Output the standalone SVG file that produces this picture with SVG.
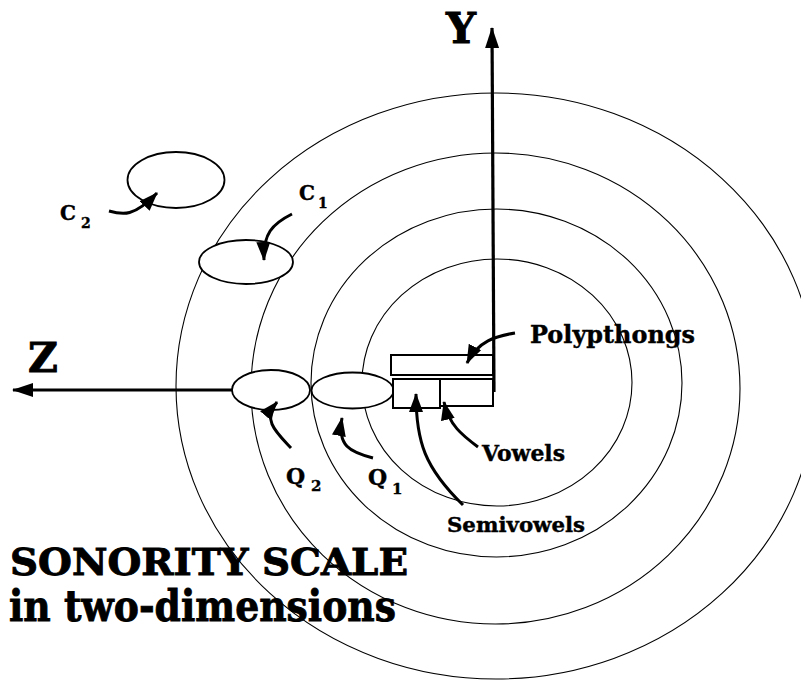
<svg xmlns="http://www.w3.org/2000/svg" width="801" height="681" viewBox="0 0 801 681">
<style>
.ring{fill:none;stroke:#000;stroke-width:1.1}
.node{fill:#fff;stroke:#000;stroke-width:1.8}
.box{fill:#fff;stroke:#000;stroke-width:2}
.arr{fill:none;stroke:#000;stroke-width:3;marker-end:url(#ah)}
.axis{fill:none;stroke:#000;stroke-width:3.2;marker-end:url(#axh)}
text{font-family:"DejaVu Serif","Liberation Serif",serif;font-weight:bold;fill:#000;stroke:#000;stroke-width:0.4}
.big{stroke-width:0.9}
</style>
<defs>
<marker id="ah" markerUnits="userSpaceOnUse" markerWidth="19" markerHeight="14" viewBox="0 0 19 14" refX="18" refY="7" orient="auto"><path d="M0,0 L19,7 L0,14 z" fill="#000"/></marker>
<marker id="axh" markerUnits="userSpaceOnUse" markerWidth="21" markerHeight="14" viewBox="0 0 21 14" refX="20" refY="7" orient="auto"><path d="M0,0 L21,7 L0,14 z" fill="#000"/></marker>
</defs>
<rect width="801" height="681" fill="#fff"/>
<g id="title">
<text class="big" x="10" y="575" font-size="37" textLength="398" lengthAdjust="spacingAndGlyphs">SONORITY SCALE</text>
<text class="big" x="9" y="621" font-size="43" textLength="387" lengthAdjust="spacingAndGlyphs">in two-dimensions</text>
</g>
<g id="rings">
<ellipse id="ring4" class="ring" cx="496" cy="386" rx="320" ry="293"/>
<ellipse id="ring3" class="ring" cx="495.5" cy="388.5" rx="244.5" ry="235.5"/>
<ellipse id="ring2" class="ring" cx="496.5" cy="383" rx="185.5" ry="174"/>
<ellipse id="ring1" class="ring" cx="497" cy="382.5" rx="135" ry="123.5"/>
</g>
<g id="axes">
<path id="z-axis" class="axis" d="M233,390 L13,390"/>
<text class="big" x="28" y="372" font-size="41">Z</text>
<text class="big" x="446" y="43" font-size="42">Y</text>
</g>
<g id="c2"><ellipse class="node" cx="176" cy="180" rx="48.5" ry="28"/>
<text x="60" y="220" font-size="20">C</text><text x="81" y="227.5" font-size="14">2</text></g>
<g id="c1"><ellipse class="node" cx="246" cy="262" rx="47" ry="22"/>
<text x="299" y="200" font-size="20">C</text><text x="318" y="207.5" font-size="14">1</text></g>
<g id="q2"><ellipse class="node" cx="271" cy="390" rx="39" ry="20"/>
<text x="286" y="484" font-size="22">Q</text><text x="311" y="491" font-size="15">2</text></g>
<g id="q1"><ellipse class="node" cx="352.5" cy="390.5" rx="41" ry="18"/>
<text x="368" y="485" font-size="22">Q</text><text x="392" y="494" font-size="15">1</text></g>
<g id="polypthongs"><rect class="box" x="391" y="355" width="102" height="20"/>
<text x="530" y="342.5" font-size="25" textLength="165" lengthAdjust="spacingAndGlyphs">Polypthongs</text></g>
<g id="semivowels"><rect class="box" x="393" y="379" width="47" height="29"/>
<text x="447" y="531.5" font-size="21" textLength="138" lengthAdjust="spacingAndGlyphs">Semivowels</text></g>
<g id="vowels"><rect class="box" x="440" y="379" width="53" height="27"/>
<text x="482" y="460.5" font-size="21.5" textLength="83" lengthAdjust="spacingAndGlyphs">Vowels</text></g>
<g id="y-axis"><path class="axis" d="M494,392 L492,28"/></g>
<g id="connectors">
<path class="arr" d="M515,333 C496,336 478,341 467,363"/>
<path class="arr" d="M292,214 C272,224 263,234 264,260"/>
<path class="arr" d="M109,211 C123,215 134,217 157,193"/>
<path class="arr" d="M291,448 C276,432 262,420 277,402"/>
<path class="arr" d="M373,458 C350,452 337,446 342,418"/>
<path class="arr" d="M478,447 C462,435 449,425 444,402"/>
<path class="arr" d="M463,505 C425,468 416,442 416,394"/>
</g>
</svg>
